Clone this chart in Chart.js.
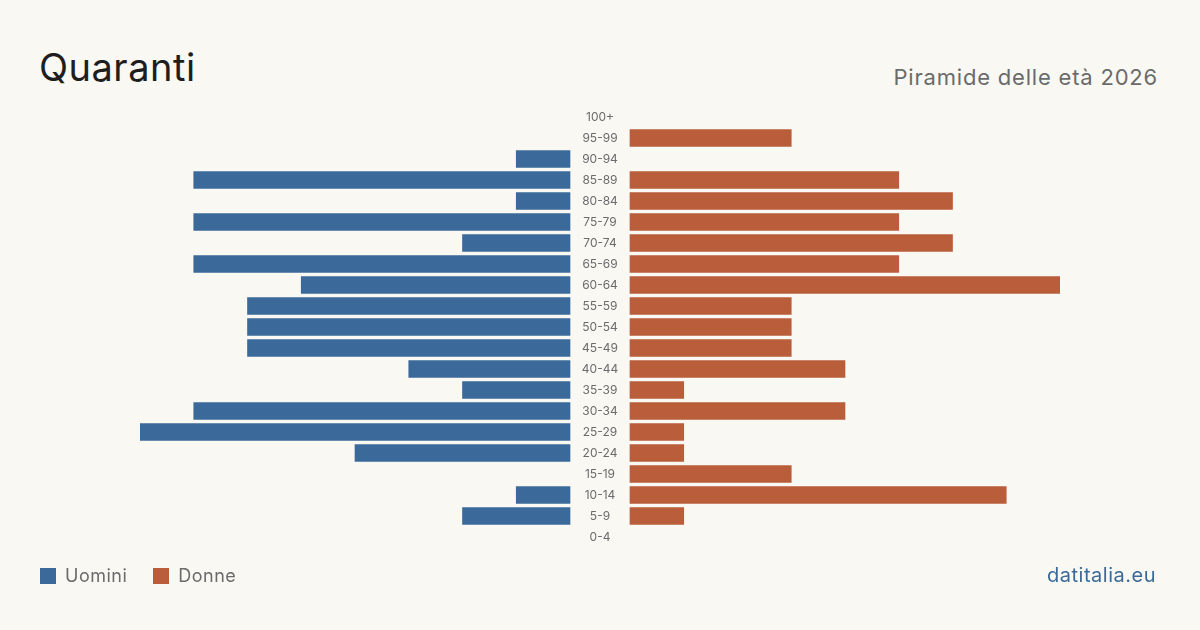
<!DOCTYPE html>
<html lang="it">
<head>
  <meta charset="UTF-8" />
  <title>Quaranti - Piramide delle età 2026</title>
  <script src="https://cdn.jsdelivr.net/npm/chart.js"></script>
  <style>
    html, body { margin: 0; padding: 0; }
    body { width: 1200px; height: 630px; background: #f9f8f3; font-family: Inter, sans-serif; position: relative; overflow: hidden; }
    .txt { position: absolute; white-space: nowrap; }
    #title { left: 39px; top: 48px; font-size: 38px; line-height: 38px; color: #1e1e1e; letter-spacing: 0.5px; }
    #subtitle { right: 42px; top: 66px; font-size: 22px; line-height: 22px; color: #6b6b6b; letter-spacing: 0.8px; }
    #legend { position: absolute; left: 40px; top: 566px; display: flex; align-items: center; font-size: 18px; line-height: 20px; color: #6b6b6b; letter-spacing: 0.5px; }
    .sw { width: 16px; height: 16px; margin-right: 9px; }
    .item { display: flex; align-items: center; margin-right: 26px; }
    #source { right: 44px; top: 565px; font-size: 20px; line-height: 20px; color: #3b6a9a; letter-spacing: 0.5px; }
    #wrap { position: absolute; left: 0; top: 0; width: 1200px; height: 630px; }
  </style>
</head>
<body>

<div class="txt" id="title">Quaranti</div>
<div class="txt" id="subtitle">Piramide delle età 2026</div>
<div id="wrap"><canvas id="pyramid"></canvas></div>
<div id="legend">
  <div class="item"><div class="sw" style="background:#3b6a9a"></div>Uomini</div>
  <div class="item"><div class="sw" style="background:#b95d3b"></div>Donne</div>
</div>
<div class="txt" id="source">datitalia.eu</div>

<script>
  const ageGroups = ["100+", "95-99", "90-94", "85-89", "80-84", "75-79", "70-74", "65-69", "60-64", "55-59", "50-54",
                     "45-49", "40-44", "35-39", "30-34", "25-29", "20-24", "15-19", "10-14", "5-9", "0-4"];
  const men   = [0, 0, 1, 7, 1, 7, 2, 7, 5, 6, 6, 6, 3, 2, 7, 8, 4, 0, 1, 2, 0];
  const women = [0, 3, 0, 5, 6, 5, 6, 5, 8, 3, 3, 3, 4, 1, 4, 1, 1, 3, 7, 1, 0];

  const maxVal = 8;
  const gap = 0.558; // half of the centre label column, in data units

  const blue = "#3b6a9a";
  const orange = "#b95d3b";

  const menBars = men.map(v => v > 0 ? [-gap, -gap - v] : null);
  const womenBars = women.map(v => v > 0 ? [gap, gap + v] : null);

  const centreLabels = {
    id: "centreLabels",
    afterDatasetsDraw(chart) {
      const { ctx, scales } = chart;
      const x = scales.x.getPixelForValue(0);
      ctx.save();
      ctx.font = "12px Inter, sans-serif";
      ctx.fillStyle = "#6b6b6b";
      ctx.textAlign = "center";
      ctx.textBaseline = "middle";
      ageGroups.forEach((g, i) => {
        ctx.fillText(g, x, scales.y.getPixelForValue(i));
      });
      ctx.restore();
    }
  };

  new Chart(document.getElementById("pyramid"), {
    type: "bar",
    data: {
      labels: ageGroups,
      datasets: [
        { label: "Uomini", data: menBars, backgroundColor: blue, grouped: false, barThickness: 17 },
        { label: "Donne", data: womenBars, backgroundColor: orange, grouped: false, barThickness: 17 }
      ]
    },
    options: {
      indexAxis: "y",
      responsive: true,
      maintainAspectRatio: false,
      animation: false,
      layout: { padding: { left: 140, right: 140, top: 106.5, bottom: 82.5 } },
      scales: {
        x: { display: false, min: -(maxVal + gap), max: maxVal + gap },
        y: { display: false }
      },
      plugins: {
        legend: { display: false },
        tooltip: { enabled: false }
      }
    },
    plugins: [centreLabels]
  });
</script>
</body>
</html>
